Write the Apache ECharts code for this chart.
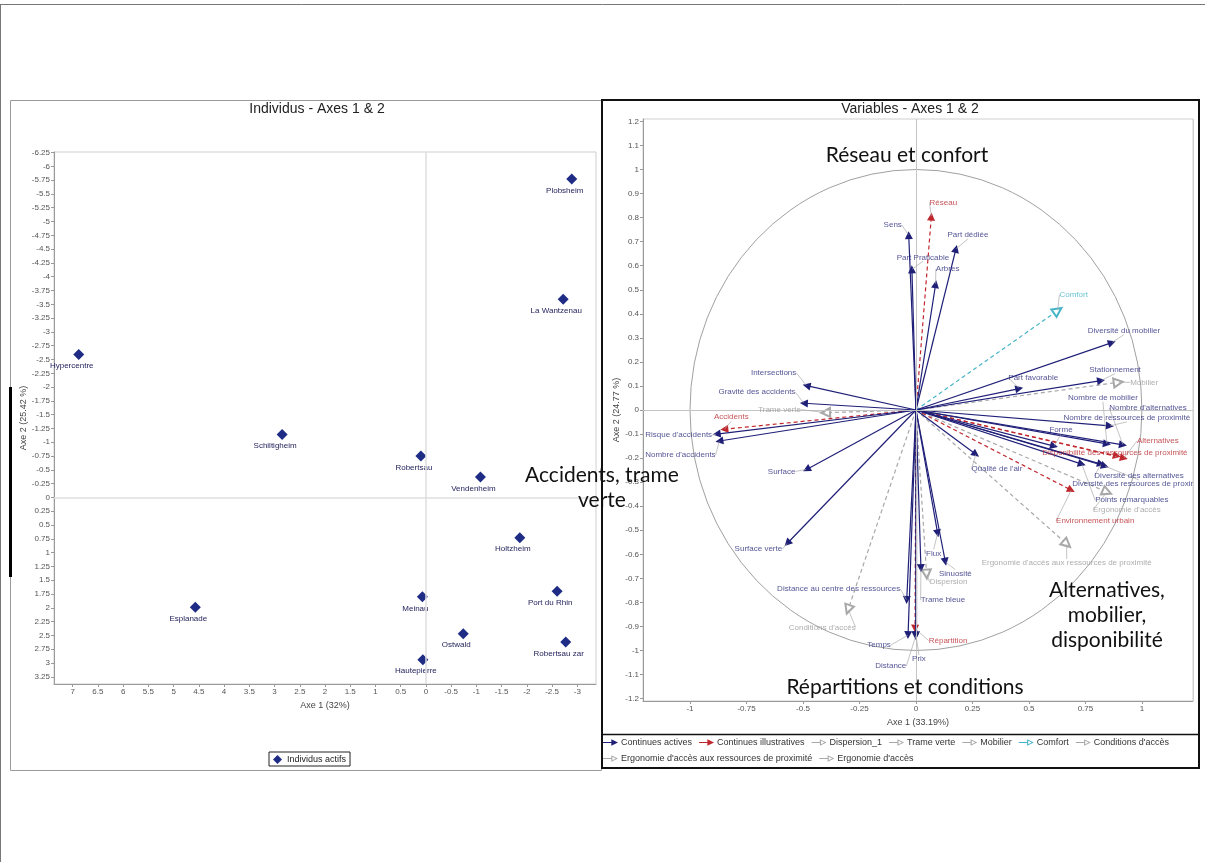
<!DOCTYPE html>
<html>
<head>
<meta charset="utf-8">
<script src="https://cdn.jsdelivr.net/npm/echarts@6/dist/echarts.min.js"></script>
<style>
  html, body { margin: 0; padding: 0; background: #fff; }
  #main { width: 1205px; height: 862px; }
</style>
</head>
<body>
<div id="main"></div>
<script>
// ---- Individus (gauche) ----
const individus = ['Plobsheim', 'La Wantzenau', 'Hypercentre', 'Schiltigheim', 'Robertsau', 'Vendenheim',
  'Holtzheim', 'Port du Rhin', 'Meinau', 'Esplanade', 'Ostwald', 'Robertsau zar', 'Hautepierre'];
const indAxe1 = [-2.89, -2.72, 6.88, 2.85, 0.10, -1.08, -1.86, -2.60, 0.07, 4.57, -0.74, -2.77, 0.06];
const indAxe2 = [-5.77, -3.59, -2.59, -1.14, -0.75, -0.37, 0.73, 1.70, 1.80, 1.99, 2.47, 2.62, 2.94];

const ticksX1 = [7, 6.5, 6, 5.5, 5, 4.5, 4, 3.5, 3, 2.5, 2, 1.5, 1, 0.5, 0, -0.5, -1, -1.5, -2, -2.5, -3];
const ticksY1 = [-6.25, -6, -5.75, -5.5, -5.25, -5, -4.75, -4.5, -4.25, -4, -3.75, -3.5, -3.25, -3, -2.75,
  -2.5, -2.25, -2, -1.75, -1.5, -1.25, -1, -0.75, -0.5, -0.25, 0, 0.25, 0.5, 0.75, 1, 1.25, 1.5, 1.75,
  2, 2.25, 2.5, 2.75, 3, 3.25];

// ---- Variables (droite) : [nom, axe 1, axe 2] ----
const continuesActives = [
  ['Sens', -0.032, 0.727],
  ['Part Praticable', -0.018, 0.585],
  ['Arbres', 0.087, 0.523],
  ['Part dédiée', 0.177, 0.67],
  ['Diversité du mobilier', 0.867, 0.28],
  ['Stationnement', 0.819, 0.122],
  ['Part favorable', 0.457, 0.089],
  ['Nombre de mobilier', 0.845, -0.141],
  ["Nombre d'alternatives", 0.916, -0.145],
  ['Nombre de ressources de proximité', 0.858, -0.066],
  ['Forme', 0.611, -0.15],
  ['Diversité des alternatives', 0.819, -0.225],
  ['Diversité des ressources de proximité', 0.836, -0.233],
  ['Points remarquables', 0.734, -0.225],
  ["Qualité de l'air", 0.265, -0.184],
  ['Intersections', -0.484, 0.101],
  ['Gravité des accidents', -0.496, 0.028],
  ["Risque d'accidents", -0.882, -0.1],
  ["Nombre d'accidents", -0.87, -0.129],
  ['Surface', -0.484, -0.247],
  ['Surface verte', -0.569, -0.554],
  ['Distance au centre des ressources', -0.041, -0.79],
  ['Temps', -0.035, -0.936],
  ['Distance', -0.001, -0.94],
  ['Prix', 0.0, -0.936],
  ['Trame bleue', 0.022, -0.658],
  ['Flux', 0.096, -0.513],
  ['Sinuosité', 0.13, -0.631]
];
const continuesIllustratives = [
  ['Réseau', 0.068, 0.804],
  ['Accidents', -0.848, -0.08],
  ['Alternatives', 0.92, -0.2],
  ['Disponibilité des ressources de proximité', 0.889, -0.191],
  ['Environnement urbain', 0.687, -0.333],
  ['Répartition', -0.004, -0.909]
];
const dispersion1 = [['Dispersion', 0.047, -0.682]];
const trameVerte = [['Trame verte', -0.4, -0.011]];
const mobilier = [['Mobilier', 0.895, 0.115]];
const comfort = [['Comfort', 0.627, 0.413]];
const conditionsAcces = [["Conditions d'accès", -0.3, -0.829]];
const ergoRessources = [["Ergonomie d'accès aux ressources de proximité", 0.667, -0.557]];
const ergoAcces = [["Ergonomie d'accès", 0.845, -0.341]];

const ticksX2 = [-1, -0.75, -0.5, -0.25, 0, 0.25, 0.5, 0.75, 1];
const ticksY2 = [1.2, 1.1, 1, 0.9, 0.8, 0.7, 0.6, 0.5, 0.4, 0.3, 0.2, 0.1, 0, -0.1, -0.2, -0.3, -0.4,
  -0.5, -0.6, -0.7, -0.8, -0.9, -1, -1.1, -1.2];
const rayonCercle = 1;

// décalage des étiquettes en pixels (dx, dy) par rapport à la pointe
const labelOffsets = {
  'Sens': [-16, -10], 'Part Praticable': [11, -12], 'Arbres': [12, -15], 'Part dédiée': [12, -14],
  'Réseau': [12, -14], 'Comfort': [16, -16], 'Diversité du mobilier': [12, -12], 'Stationnement': [14, -11],
  'Part favorable': [14, -11], 'Mobilier': [26, 0], 'Nombre de mobilier': [-4, -46],
  "Nombre d'alternatives": [25, -37], 'Nombre de ressources de proximité': [17, -8], 'Forme': [7, -16],
  'Alternatives': [34, -17], 'Disponibilité des ressources de proximité': [-2, -3],
  'Diversité des alternatives': [38, 12], 'Diversité des ressources de proximité': [34, 18],
  'Points remarquables': [50, 36], "Ergonomie d'accès": [20, 18], 'Environnement urbain': [24, 31],
  "Ergonomie d'accès aux ressources de proximité": [0, 19], "Qualité de l'air": [21, 15],
  'Intersections': [-33, -13], 'Gravité des accidents': [-47, -11], 'Trame verte': [-46, -3],
  'Accidents': [7, -12], "Risque d'accidents": [-38, 1], "Nombre d'accidents": [-39, 14],
  'Surface': [-25, 2], 'Surface verte': [-29, 6], "Conditions d'accès": [-26, 18],
  'Distance au centre des ressources': [-68, -11], 'Temps': [-29, 10], 'Distance': [-25, 30],
  'Répartition': [33, 12], 'Prix': [3, 24], 'Trame bleue': [22, 32], 'Dispersion': [22, 8],
  'Flux': [-4, 20], 'Sinuosité': [10, 12]
};

const cActive = '#1f1f78';
const cIllus = '#c0272d';
const cSupp = '#a8a8a8';
const cComfort = '#45b4c6';
const small = 'Liberation Sans, Arial, sans-serif';

const iconFull = 'path://M0,4.4H11V5.6H0Z M10,1L18,5L10,9Z';
const iconEmpty = 'path://M0,4.4H10V5.6H0Z M10,1L18,5L10,9Z M11.3,2.9V7.1L15.5,5Z';

function arrowSeries(name, vars, color, dashed, hollow) {
  return {
    name: name,
    type: 'lines',
    coordinateSystem: 'cartesian2d',
    xAxisIndex: 1,
    yAxisIndex: 1,
    polyline: false,
    symbol: ['none', hollow ? 'emptyTriangle' : 'triangle'],
    symbolSize: hollow ? 9 : 8,
    lineStyle: { color: color, width: 1.2, opacity: 1, type: dashed ? [4, 3] : 'solid', curveness: 0 },
    data: vars.map(v => ({ name: v[0], coords: [[0, 0], [v[1], v[2]]] })),
    silent: true,
    z: 3
  };
}

function labelItems(vars, color) {
  return vars.map(v => ({ name: v[0], value: [v[1], v[2]], label: { color: color } }));
}

const axisCommon = {
  type: 'value',
  splitLine: { show: false },
  axisLine: { show: true, onZero: false, lineStyle: { color: '#9a9a9a', width: 1 } },
  axisTick: { show: true, length: 3, lineStyle: { color: '#9a9a9a' } },
  nameTextStyle: { fontFamily: small, fontSize: 9, color: '#444' },
  nameLocation: 'middle'
};

const chart = echarts.init(document.getElementById('main'), null, { renderer: 'canvas' });

const option = {
  animation: false,
  backgroundColor: '#fff',
  textStyle: { fontFamily: small },
  title: [
    { text: 'Individus - Axes 1 & 2', left: 312, top: 97, textAlign: 'center',
      textStyle: { fontFamily: small, fontSize: 14, fontWeight: 'normal', color: '#222' } },
    { text: 'Variables - Axes 1 & 2', left: 905, top: 97, textAlign: 'center',
      textStyle: { fontFamily: small, fontSize: 14, fontWeight: 'normal', color: '#222' } }
  ],
  grid: [
    { left: 54, top: 152, width: 542, height: 532, show: true, borderColor: '#cfcfcf', borderWidth: 1,
      outerBoundsMode: 'none' },
    { left: 643, top: 119, width: 550, height: 582, show: true, borderColor: '#cfcfcf', borderWidth: 1,
      outerBoundsMode: 'none' }
  ],
  xAxis: [
    Object.assign({}, axisCommon, {
      gridIndex: 0, min: -3.37, max: 7.37, inverse: true, name: 'Axe 1 (32%)', nameGap: 17,
      axisLabel: { customValues: ticksX1, fontSize: 8, color: '#555', margin: 4 },
      axisTick: { customValues: ticksX1, length: 3, lineStyle: { color: '#9a9a9a' } }
    }),
    Object.assign({}, axisCommon, {
      gridIndex: 1, min: -1.208, max: 1.226, name: 'Axe 1 (33.19%)', nameGap: 16,
      axisLabel: { customValues: ticksX2, fontSize: 8, color: '#555', margin: 4 },
      axisTick: { customValues: ticksX2, length: 3, lineStyle: { color: '#9a9a9a' } }
    })
  ],
  yAxis: [
    Object.assign({}, axisCommon, {
      gridIndex: 0, min: -6.26, max: 3.38, inverse: true, name: 'Axe 2 (25.42 %)', nameGap: 26,
      axisLabel: { customValues: ticksY1, fontSize: 8, color: '#555', margin: 4 },
      axisTick: { customValues: ticksY1, length: 3, lineStyle: { color: '#9a9a9a' } }
    }),
    Object.assign({}, axisCommon, {
      gridIndex: 1, min: -1.21, max: 1.21, name: 'Axe 2 (24.77 %)', nameGap: 20,
      axisLabel: { customValues: ticksY2, fontSize: 8, color: '#555', margin: 4 },
      axisTick: { customValues: ticksY2, length: 3, lineStyle: { color: '#9a9a9a' } }
    })
  ],
  legend: [
    { data: [{ name: 'Individus actifs', icon: 'diamond' }], left: 269, top: 752, itemWidth: 9, itemHeight: 9,
      itemGap: 4, padding: [3, 4, 2, 4], borderColor: '#222', borderWidth: 1, selectedMode: false,
      textStyle: { fontFamily: small, fontSize: 9, color: '#222' } },
    { data: [
        { name: 'Continues actives', icon: iconFull },
        { name: 'Continues illustratives', icon: iconFull },
        { name: 'Dispersion_1', icon: iconEmpty },
        { name: 'Trame verte', icon: iconEmpty },
        { name: 'Mobilier', icon: iconEmpty },
        { name: 'Comfort', icon: iconEmpty },
        { name: "Conditions d'accès", icon: iconEmpty }
      ],
      left: 603, top: 738, itemWidth: 15, itemHeight: 8, itemGap: 7, padding: 0, selectedMode: false,
      itemStyle: { borderWidth: 0 },
      textStyle: { fontFamily: small, fontSize: 9, color: '#333', padding: [0, 0, 0, -2] } },
    { data: [
        { name: "Ergonomie d'accès aux ressources de proximité", icon: iconEmpty },
        { name: "Ergonomie d'accès", icon: iconEmpty }
      ],
      left: 603, top: 754, itemWidth: 15, itemHeight: 8, itemGap: 7, padding: 0, selectedMode: false,
      itemStyle: { borderWidth: 0 },
      textStyle: { fontFamily: small, fontSize: 9, color: '#333', padding: [0, 0, 0, -2] } }
  ],
  series: [
    {
      name: 'Individus actifs',
      type: 'scatter',
      xAxisIndex: 0, yAxisIndex: 0,
      symbol: 'diamond', symbolSize: 11,
      itemStyle: { color: '#1f2c86', opacity: 1 },
      data: individus.map((n, i) => ({ name: n, value: [indAxe1[i], indAxe2[i]] })),
      label: { show: true, position: 'bottom', distance: 2, offset: [-7, 0], formatter: p => p.name,
        fontSize: 8, color: '#24245e', fontFamily: small },
      markLine: {
        silent: true, symbol: ['none', 'none'], label: { show: false },
        lineStyle: { color: '#dedede', type: 'solid', width: 1.5 },
        data: [{ xAxis: 0 }, { yAxis: 0 }]
      },
      z: 4
    },
    {
      name: 'cercle',
      type: 'custom',
      xAxisIndex: 1, yAxisIndex: 1,
      data: [[0, 0]],
      silent: true,
      renderItem: function (params, api) {
        const c = api.coord([0, 0]);
        const px = api.coord([rayonCercle, 0]);
        const py = api.coord([0, rayonCercle]);
        const rx = px[0] - c[0];
        const ry = c[1] - py[1];
        return {
          type: 'circle', x: c[0], y: c[1], scaleX: rx / ry, scaleY: 1,
          shape: { cx: 0, cy: 0, r: ry },
          style: { fill: 'none', stroke: '#9d9d9d', lineWidth: 1, strokeNoScale: true }
        };
      },
      z: 1
    },
    {
      name: 'zero',
      type: 'scatter',
      xAxisIndex: 1, yAxisIndex: 1,
      data: [[0, 0]], symbolSize: 0, silent: true,
      markLine: {
        silent: true, symbol: ['none', 'none'], label: { show: false },
        lineStyle: { color: '#c4c4c4', type: 'solid', width: 1 },
        data: [{ xAxis: 0 }, { yAxis: 0 }]
      },
      z: 1
    },
    arrowSeries('Dispersion_1', dispersion1, cSupp, true, true),
    arrowSeries('Trame verte', trameVerte, cSupp, true, true),
    arrowSeries('Mobilier', mobilier, cSupp, true, true),
    arrowSeries('Comfort', comfort, cComfort, true, true),
    arrowSeries("Conditions d'accès", conditionsAcces, cSupp, true, true),
    arrowSeries("Ergonomie d'accès aux ressources de proximité", ergoRessources, cSupp, true, true),
    arrowSeries("Ergonomie d'accès", ergoAcces, cSupp, true, true),
    arrowSeries('Continues illustratives', continuesIllustratives, cIllus, true, false),
    arrowSeries('Continues actives', continuesActives, cActive, false, false),
    {
      name: 'etiquettes',
      type: 'scatter',
      xAxisIndex: 1, yAxisIndex: 1,
      symbol: 'circle', symbolSize: 1,
      itemStyle: { color: 'rgba(0,0,0,0)' },
      silent: true,
      data: [].concat(
        labelItems(continuesActives, '#28287a'),
        labelItems(continuesIllustratives, '#b8282e'),
        labelItems(dispersion1, '#999'),
        labelItems(trameVerte, '#999'),
        labelItems(mobilier, '#999'),
        labelItems(comfort, cComfort),
        labelItems(conditionsAcces, '#999'),
        labelItems(ergoRessources, '#999'),
        labelItems(ergoAcces, '#999')
      ),
      label: { show: true, position: 'inside', formatter: p => p.name, fontSize: 8, fontFamily: small },
      labelLayout: function (p) {
        const o = labelOffsets[p.text] || [10, -10];
        return { dx: o[0], dy: o[1] };
      },
      labelLine: { show: true, length2: 0, lineStyle: { color: '#aaaaaa', width: 0.7 } },
      z: 5
    }
  ],
  graphic: [
    { type: 'line', shape: { x1: 0, y1: 4.5, x2: 1205, y2: 4.5 }, style: { stroke: '#777', lineWidth: 1 } },
    { type: 'line', shape: { x1: 0.5, y1: 4, x2: 0.5, y2: 862 }, style: { stroke: '#777', lineWidth: 1 } },
    { type: 'rect', shape: { x: 10.5, y: 100.5, width: 591, height: 670 },
      style: { fill: 'none', stroke: '#9a9a9a', lineWidth: 1 } },
    { type: 'rect', shape: { x: 9, y: 387, width: 3, height: 190 }, style: { fill: '#000' } },
    // bande blanche qui coupe les étiquettes au bord du cadre droit
    { type: 'rect', z: 90, shape: { x: 1193.5, y: 101, width: 12, height: 633 }, style: { fill: '#fff' } },
    { type: 'line', z: 91, shape: { x1: 1193.5, y1: 119, x2: 1193.5, y2: 701 }, style: { stroke: '#cfcfcf', lineWidth: 1 } },
    { type: 'rect', z: 95, shape: { x: 602, y: 100, width: 597, height: 668 },
      style: { fill: 'none', stroke: '#111', lineWidth: 2 } },
    { type: 'line', z: 95, shape: { x1: 602, y1: 734.5, x2: 1199, y2: 734.5 }, style: { stroke: '#111', lineWidth: 1.5 } },
    { type: 'text', x: 907, y: 155, z: 100,
      style: { text: 'Réseau et confort', font: '21px Lato', fill: '#111', align: 'center', verticalAlign: 'middle' } },
    { type: 'text', x: 602, y: 488, z: 100,
      style: { text: 'Accidents, trame\nverte', font: '21px Lato', fill: '#111', align: 'center',
        verticalAlign: 'middle', lineHeight: 25 } },
    { type: 'text', x: 1107, y: 615, z: 100,
      style: { text: 'Alternatives,\nmobilier,\ndisponibilité', font: '21px Lato', fill: '#111', align: 'center',
        verticalAlign: 'middle', lineHeight: 25 } },
    { type: 'text', x: 905, y: 687, z: 100,
      style: { text: 'Répartitions et conditions', font: '21px Lato', fill: '#111', align: 'center',
        verticalAlign: 'middle' } }
  ]
};

chart.setOption(option);
</script>
</body>
</html>
